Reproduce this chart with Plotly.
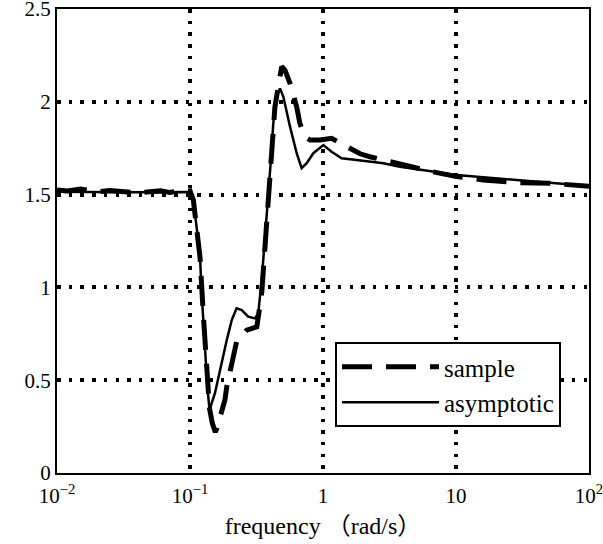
import plotly.graph_objects as go

# ---- data ----
asym_freq = [0.01, 0.03, 0.1, 0.106, 0.112, 0.119, 0.122, 0.126, 0.130, 0.135, 0.141, 0.144,
             0.154, 0.168, 0.189, 0.206, 0.224, 0.245, 0.274, 0.308, 0.326, 0.346, 0.366,
             0.388, 0.404, 0.423, 0.443, 0.475, 0.503, 0.565, 0.634, 0.691, 0.754, 0.846,
             1.006, 1.16, 1.38, 1.79, 2.84, 3.79, 6.5, 10.1, 28.6, 60.0, 100.0]
asym_vals = [1.515, 1.512, 1.514, 1.471, 1.327, 1.165, 0.986, 0.807, 0.627, 0.465, 0.322, 0.366,
             0.43, 0.555, 0.717, 0.824, 0.887, 0.878, 0.842, 0.833, 0.860, 1.04, 1.255,
             1.471, 1.669, 1.884, 2.028, 2.072, 2.028, 1.866, 1.723, 1.642, 1.669, 1.723,
             1.767, 1.731, 1.696, 1.686, 1.669, 1.65, 1.625, 1.606, 1.579, 1.56, 1.546]

sample_freq = [0.01, 0.012, 0.015, 0.02, 0.025, 0.03, 0.04, 0.05, 0.06, 0.07, 0.08, 0.09, 0.1,
               0.106, 0.112, 0.119, 0.126, 0.132, 0.140, 0.147, 0.155, 0.159, 0.183, 0.189,
               0.212, 0.224, 0.267, 0.318, 0.346, 0.366, 0.388, 0.411, 0.435, 0.489, 0.518,
               0.565, 0.634, 0.67, 0.73, 0.80, 0.95, 1.16, 1.51, 1.9, 2.25, 3.2, 4.5, 6.7,
               10.1, 16.0, 28.6, 50.8, 100.0]
sample_vals = [1.525, 1.52, 1.53, 1.515, 1.522, 1.518, 1.51, 1.515, 1.52, 1.512, 1.518, 1.515, 1.52,
               1.47, 1.33, 1.16, 0.85, 0.60, 0.35, 0.27, 0.22, 0.24, 0.393, 0.465,
               0.618, 0.707, 0.77, 0.788, 0.968, 1.22, 1.47, 1.74, 1.973, 2.19, 2.17,
               2.10, 1.973, 1.884, 1.812, 1.794, 1.794, 1.803, 1.758, 1.72, 1.704, 1.677, 1.65, 1.623,
               1.597, 1.579, 1.564, 1.561, 1.545]

x_tick_vals = [0.01, 0.1, 1, 10, 100]
x_tick_text = ["10<sup>−2</sup>", "10<sup>−1</sup>", "1", "10", "10<sup>2</sup>"]
y_tick_vals = [0, 0.5, 1, 1.5, 2, 2.5]
y_tick_text = ["0", "0.5", "1", "1.5", "2", "2.5"]

FONT = "Liberation Serif, 'Noto Sans CJK SC', serif"

fig = go.Figure()
fig.add_trace(go.Scatter(x=sample_freq, y=sample_vals, mode="lines", name="sample",
                         line=dict(color="black", width=5, dash="30px,14px")))
fig.add_trace(go.Scatter(x=asym_freq, y=asym_vals, mode="lines", name="asymptotic",
                         line=dict(color="black", width=2.5)))

common = dict(showgrid=True, gridcolor="black", gridwidth=3.5, griddash="3.5px,8.2px",
              showline=True, linecolor="black", linewidth=2, mirror=True,
              ticks="", zeroline=False, automargin=False, ticklabeloverflow="allow")

fig.update_xaxes(type="log", range=[-2, 2], tickvals=x_tick_vals, ticktext=x_tick_text,
                 tickfont=dict(family=FONT, size=21, color="black"),
                 ticklabelstandoff=3,
                 title=dict(text="frequency （rad/s）", font=dict(family=FONT, size=24, color="black"),
                            standoff=10),
                 **common)
fig.update_yaxes(range=[0, 2.5], tickvals=y_tick_vals, ticktext=y_tick_text,
                 tickfont=dict(family=FONT, size=21, color="black"),
                 **common)

fig.update_layout(
    template="none",
    width=603, height=544,
    margin=dict(l=57, r=14, t=9, b=71, autoexpand=False),
    paper_bgcolor="white", plot_bgcolor="white",
    showlegend=True,
    legend=dict(x=0.5226, y=0.2823, xanchor="left", yanchor="top",
                bgcolor="white", bordercolor="black", borderwidth=2,
                font=dict(family=FONT, size=25, color="black"),
                itemwidth=97, tracegroupgap=0),
)

fig.write_html("out.html", config={"displayModeBar": False},
               post_script="document.body.style.margin='0';")
